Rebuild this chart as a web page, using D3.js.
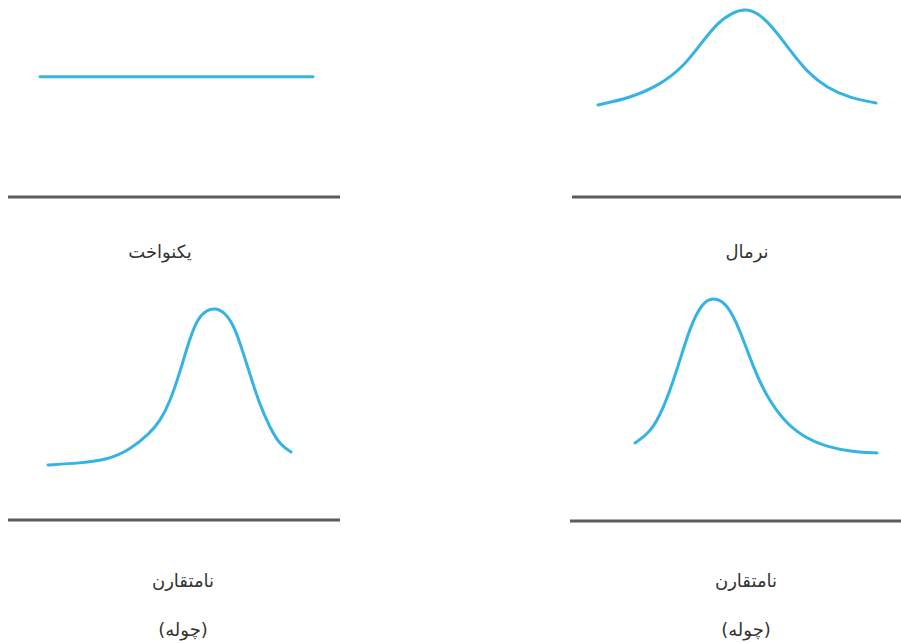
<!DOCTYPE html>
<html>
<head>
<meta charset="utf-8">
<script src="https://cdn.jsdelivr.net/npm/d3@7"></script>
<style>
  body { margin: 0; background: #fff; }
  text { font-family: "DejaVu Sans", "Noto Sans", sans-serif; }
</style>
</head>
<body>
<div id="chart"></div>
<script>
// curve samples: x position (0-100 across the panel) and relative density (0-100)
const uniformX = [0, 100];
const uniformY = [33, 33];

const normalX = [0, 11.5, 22.3, 30.6, 36.7, 42.8, 48.6, 52.9, 57.2, 62.9, 69.1, 75.2, 82.4, 90.6, 100];
const normalY = [5, 11.9, 24.8, 42.6, 64.4, 86, 97, 100, 97, 82, 59, 37.6, 21.8, 11.9, 7];

const leftSkewX = [0, 13.2, 24.3, 33.7, 42, 46.1, 50.2, 54.3, 58.4, 61.7, 65.4, 68.7, 72.8, 77, 80.2, 84, 87.2, 91.4, 95.5, 100];
const leftSkewY = [2.9, 4, 5.8, 11.6, 21.4, 28.3, 39.3, 56.6, 76.3, 87.9, 92.5, 93.6, 91.3, 82.1, 68.2, 51.4, 37.6, 24.3, 14.5, 10.4];

const rightSkewX = [0, 6.2, 11.6, 17.4, 22.7, 27.7, 32.2, 38, 43.4, 48.8, 54.5, 61.2, 69.4, 79.3, 90.1, 100];
const rightSkewY = [15.6, 21.4, 34.7, 57.8, 82.7, 96.5, 100, 96.5, 80.9, 59.5, 42.2, 28.9, 19.1, 13.3, 10.4, 9.8];

const labelsTopLeft = ["یکنواخت"];
const labelsTopRight = ["نرمال"];
const labelsBottomLeft = ["نامتقارن", "(چوله)"];
const labelsBottomRight = ["نامتقارن", "(چوله)"];

const width = 901, height = 643;
const curveColor = "#35b4e4";
const axisColor = "#5c5c5c";
const textColor = "#333";

const svg = d3.select("#chart")
  .append("svg")
  .attr("width", width)
  .attr("height", height);

// one entry per small panel: where the curve sits, the axis line and the caption
const panels = [
  { xs: uniformX, ys: uniformY, xr: [40, 313], yr: [110, 9],
    axis: [8, 340, 197], labels: labelsTopLeft, lx: 160, ly: [252] },
  { xs: normalX, ys: normalY, xr: [598, 876], yr: [110, 9],
    axis: [572, 901, 197], labels: labelsTopRight, lx: 747, ly: [252] },
  { xs: leftSkewX, ys: leftSkewY, xr: [48, 291], yr: [470, 297],
    axis: [8, 340, 520], labels: labelsBottomLeft, lx: 183, ly: [581, 630] },
  { xs: rightSkewX, ys: rightSkewY, xr: [635, 877], yr: [470, 297],
    axis: [570, 901, 521], labels: labelsBottomRight, lx: 746, ly: [581, 630] }
];

panels.forEach(p => {
  const x = d3.scaleLinear().domain([0, 100]).range(p.xr);
  const y = d3.scaleLinear().domain([0, 100]).range(p.yr);

  const pts = p.xs.map((v, i) => [v, p.ys[i]]);

  // basis smooths the hand-read points a little
  const line = d3.line()
    .x(d => x(d[0]))
    .y(d => y(d[1]))
    .curve(d3.curveBasis);

  svg.append("path")
    .datum(pts)
    .attr("fill", "none")
    .attr("stroke", curveColor)
    .attr("stroke-width", 3)
    .attr("stroke-linecap", "round")
    .attr("d", line);

  // baseline axis under the curve
  svg.append("line")
    .attr("x1", p.axis[0])
    .attr("x2", p.axis[1])
    .attr("y1", p.axis[2])
    .attr("y2", p.axis[2])
    .attr("stroke", axisColor)
    .attr("stroke-width", 3);

  p.labels.forEach((t, i) => {
    svg.append("text")
      .attr("x", p.lx)
      .attr("y", p.ly[i])
      .attr("dy", "0.35em")
      .attr("text-anchor", "middle")
      .attr("direction", "rtl")
      .attr("font-size", 18)
      .attr("fill", textColor)
      .text(t);
  });
});
</script>
</body>
</html>
